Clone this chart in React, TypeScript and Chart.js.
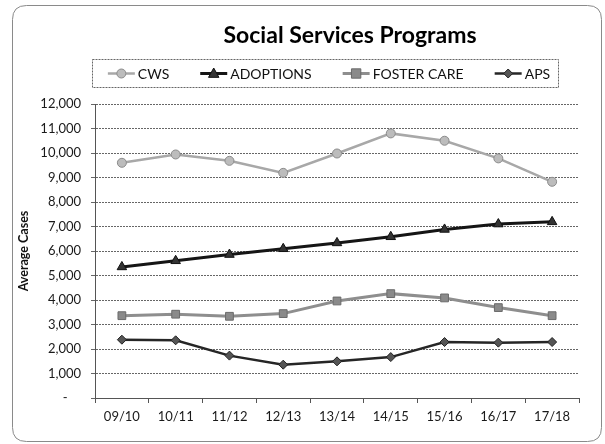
import React, { useEffect, useRef } from 'react';
import { Chart, registerables } from 'chart.js';

Chart.register(...registerables);

const categories = ['09/10', '10/11', '11/12', '12/13', '13/14', '14/15', '15/16', '16/17', '17/18'];
const cws = [9600, 9940, 9680, 9190, 9980, 10800, 10500, 9780, 8825];
const adoptions = [5350, 5600, 5855, 6090, 6330, 6580, 6880, 7100, 7190];
const fosterCare = [3360, 3420, 3335, 3445, 3960, 4260, 4085, 3690, 3360];
const aps = [2380, 2355, 1730, 1360, 1495, 1670, 2285, 2260, 2285];
const seriesNames = ['CWS', 'ADOPTIONS', 'FOSTER CARE', 'APS'];
const yMin = 0;
const yMax = 12000;
const yStep = 1000;
const chartTitle = 'Social Services Programs';
const yAxisTitle = 'Average Cases';

const FONT = 'Lato, "Open Sans", sans-serif';

function drawMarker(ctx: CanvasRenderingContext2D, style: string, x: number, y: number, r: number, fill: string, stroke: string) {
  ctx.save();
  ctx.fillStyle = fill;
  ctx.strokeStyle = stroke;
  ctx.lineWidth = 1;
  ctx.setLineDash([]);
  ctx.beginPath();
  if (style === 'circle') {
    ctx.arc(x, y, r, 0, Math.PI * 2);
  } else if (style === 'triangle') {
    ctx.moveTo(x, y - r);
    ctx.lineTo(x + r * 0.95, y + r * 0.7);
    ctx.lineTo(x - r * 0.95, y + r * 0.7);
    ctx.closePath();
  } else if (style === 'rect') {
    const s = r * 0.85;
    ctx.rect(x - s, y - s, s * 2, s * 2);
  } else {
    ctx.moveTo(x, y - r);
    ctx.lineTo(x + r, y);
    ctx.lineTo(x, y + r);
    ctx.lineTo(x - r, y);
    ctx.closePath();
  }
  ctx.fill();
  ctx.stroke();
  ctx.restore();
}

const decorPlugin = {
  id: 'decor',
  beforeDraw(chart: any) {
    const ctx: CanvasRenderingContext2D = chart.ctx;
    ctx.save();
    ctx.fillStyle = '#ffffff';
    ctx.fillRect(0, 0, chart.width, chart.height);
    const x0 = 12.5, y0 = 5.5, x1 = 601.5, y1 = 441.5, rad = 14;
    ctx.strokeStyle = '#8a8a8a';
    ctx.lineWidth = 1;
    ctx.beginPath();
    ctx.moveTo(x0 + rad, y0);
    ctx.lineTo(x1 - rad, y0);
    ctx.quadraticCurveTo(x1, y0, x1, y0 + rad);
    ctx.lineTo(x1, y1 - rad);
    ctx.quadraticCurveTo(x1, y1, x1 - rad, y1);
    ctx.lineTo(x0 + rad, y1);
    ctx.quadraticCurveTo(x0, y1, x0, y1 - rad);
    ctx.lineTo(x0, y0 + rad);
    ctx.quadraticCurveTo(x0, y0, x0 + rad, y0);
    ctx.closePath();
    ctx.stroke();
    ctx.restore();
  },
  afterDraw(chart: any) {
    const ctx: CanvasRenderingContext2D = chart.ctx;
    ctx.save();
    ctx.fillStyle = '#000';
    ctx.font = `bold 23px ${FONT}`;
    ctx.textAlign = 'center';
    ctx.textBaseline = 'middle';
    ctx.fillText(chartTitle, 350, 36);

    const bx = 92.5, by = 59.5, bw = 466, bh = 28;
    ctx.strokeStyle = '#666';
    ctx.lineWidth = 1;
    ctx.setLineDash([2, 1]);
    ctx.strokeRect(bx, by, bw, bh);
    ctx.setLineDash([]);

    ctx.font = `14px ${FONT}`;
    ctx.textAlign = 'left';
    const sampleW = 27, textGap = 3, itemGap = 31;
    const datasets = chart.data.datasets;
    const widths = datasets.map((d: any) => ctx.measureText(d.label).width);
    const total = widths.reduce((a: number, w: number) => a + sampleW + textGap + w, 0) + itemGap * (datasets.length - 1);
    let x = 329 - total / 2;
    const cy = by + bh / 2;
    datasets.forEach((d: any, i: number) => {
      ctx.strokeStyle = d.borderColor;
      ctx.lineWidth = d.borderWidth;
      ctx.beginPath();
      ctx.moveTo(x, cy);
      ctx.lineTo(x + sampleW, cy);
      ctx.stroke();
      drawMarker(ctx, d.pointStyle, x + sampleW / 2, cy, d.pointRadius, d.pointBackgroundColor, d.pointBorderColor);
      ctx.fillStyle = '#111';
      ctx.fillText(d.label, x + sampleW + textGap, cy + 1);
      x += sampleW + textGap + widths[i] + itemGap;
    });
    ctx.restore();
  },
};

export default function App() {
  const ref = useRef<HTMLCanvasElement>(null);
  useEffect(() => {
    document.body.style.margin = '0';
    const canvas = ref.current;
    if (!canvas) return;
    const chart = new Chart(canvas, {
      type: 'line',
      data: {
        labels: categories,
        datasets: [
          {
            label: seriesNames[0],
            data: cws,
            borderColor: '#a8a8a8',
            borderWidth: 2.5,
            pointStyle: 'circle',
            pointRadius: 4.5,
            pointBackgroundColor: '#bcbcbc',
            pointBorderColor: '#8c8c8c',
            pointBorderWidth: 1,
            tension: 0,
          },
          {
            label: seriesNames[1],
            data: adoptions,
            borderColor: '#151515',
            borderWidth: 3,
            pointStyle: 'triangle',
            pointRadius: 5.5,
            pointBackgroundColor: '#333333',
            pointBorderColor: '#111111',
            pointBorderWidth: 1,
            tension: 0,
          },
          {
            label: seriesNames[2],
            data: fosterCare,
            borderColor: '#8e8e8e',
            borderWidth: 3,
            pointStyle: 'rect',
            pointRadius: 5.5,
            pointBackgroundColor: '#8a8a8a',
            pointBorderColor: '#6a6a6a',
            pointBorderWidth: 1,
            tension: 0,
          },
          {
            label: seriesNames[3],
            data: aps,
            borderColor: '#262626',
            borderWidth: 2.5,
            pointStyle: 'rectRot',
            pointRadius: 4.5,
            pointBackgroundColor: '#555555',
            pointBorderColor: '#222222',
            pointBorderWidth: 1,
            tension: 0,
          },
        ],
      },
      options: {
        responsive: false,
        animation: false,
        devicePixelRatio: 1,
        layout: { padding: { top: 104, right: 26, bottom: 0, left: 0 } },
        plugins: {
          legend: { display: false },
          title: { display: false },
          tooltip: { enabled: false },
        },
        scales: {
          x: {
            type: 'category',
            offset: true,
            grid: { offset: true, drawOnChartArea: false, drawTicks: true, tickLength: 5, color: '#555' },
            border: { display: true, color: '#555', width: 1 },
            ticks: { font: { family: FONT, size: 13 }, color: '#1a1a1a', padding: 6, maxRotation: 0, autoSkip: false },
            afterFit: (s: any) => { s.height = 46; },
          },
          y: {
            min: yMin,
            max: yMax,
            ticks: {
              stepSize: yStep,
              font: { family: FONT, size: 13 },
              color: '#1a1a1a',
              padding: 10,
              callback: (v: any) => (Number(v) === 0 ? '-    ' : Number(v).toLocaleString('en-US')),
            },
            grid: { color: '#666', lineWidth: 1, tickLength: 4 },
            border: { display: true, color: '#555', width: 1, dash: [2, 1] },
            title: {
              display: true,
              text: yAxisTitle,
              font: { family: FONT, size: 12.5, weight: 'bold' },
              color: '#111',
              padding: { top: 16, bottom: 0 },
            },
            afterFit: (s: any) => { s.width = 95; },
          },
        },
      },
      plugins: [decorPlugin],
    });
    return () => chart.destroy();
  }, []);
  return (
    <div style={{ position: 'absolute', left: 0, top: 0, width: 605, height: 444 }}>
      <canvas ref={ref} width={605} height={444} style={{ display: 'block' }} />
    </div>
  );
}
